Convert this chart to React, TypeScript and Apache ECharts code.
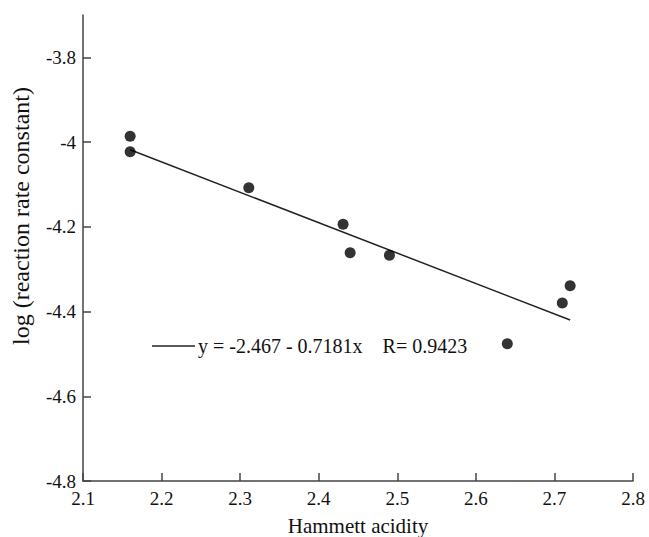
import React, { useEffect, useRef } from "react";
import * as echarts from "echarts";

const acidityX = [2.16, 2.16, 2.311, 2.431, 2.44, 2.49, 2.64, 2.71, 2.72];
const logRateY = [-3.986, -4.023, -4.108, -4.194, -4.261, -4.267, -4.476, -4.38, -4.339];
const fitX = [2.16, 2.72];
const fitY = [-4.018, -4.42];
const yTicks = [-4.8, -4.6, -4.4, -4.2, -4.0, -3.8];
const fitLabel = "y = -2.467 - 0.7181x    R= 0.9423";
const xTitle = "Hammett acidity";
const yTitle = "log (reaction rate constant)";

const FONT = "Liberation Serif";

export default function App() {
  const ref = useRef<HTMLDivElement>(null);
  useEffect(() => {
    document.body.style.margin = "0";
    const chart = echarts.init(ref.current!, null, { renderer: "svg" });
    const axisColor = "#444";
    chart.setOption({
      animation: false,
      backgroundColor: "#fff",
      textStyle: { fontFamily: FONT },
      grid: { left: 83, right: 16, top: 15, bottom: 56, containLabel: false, outerBoundsMode: "none" },
      xAxis: {
        type: "value",
        min: 2.1,
        max: 2.8,
        interval: 0.1,
        name: xTitle,
        nameLocation: "middle",
        nameGap: 34,
        nameTextStyle: { fontFamily: FONT, fontSize: 21, color: "#111", lineHeight: 21 },
        axisLine: { show: true, lineStyle: { color: axisColor, width: 1.5 } },
        axisTick: { show: true, inside: true, length: 8, lineStyle: { color: axisColor, width: 1.5 } },
        axisLabel: {
          fontFamily: FONT,
          fontSize: 19,
          color: "#111",
          margin: 8,
          formatter: (v: number) => v.toFixed(1),
        },
        splitLine: { show: false },
      },
      yAxis: {
        type: "value",
        min: -4.8,
        max: -3.7,
        interval: 0.2,
        axisLine: { show: true, lineStyle: { color: axisColor, width: 1.5 } },
        axisTick: { show: true, inside: true, length: 8, lineStyle: { color: axisColor, width: 1.5 }, customValues: yTicks },
        axisLabel: {
          fontFamily: FONT,
          fontSize: 19,
          color: "#111",
          margin: 7,
          showMaxLabel: false,
          formatter: (v: number) => String(Math.round(v * 10) / 10),
        },
        splitLine: { show: false },
      },
      series: [
        {
          type: "line",
          data: fitX.map((x, i) => [x, fitY[i]]),
          symbol: "none",
          lineStyle: { color: "#222", width: 1.5 },
          z: 2,
        },
        {
          type: "scatter",
          data: acidityX.map((x, i) => [x, logRateY[i]]),
          symbol: "circle",
          symbolSize: 11,
          itemStyle: { color: "#000" },
          z: 3,
        },
      ],
      graphic: [
        {
          type: "text",
          x: 21,
          y: 216,
          rotation: Math.PI / 2,
          style: {
            text: yTitle,
            fontFamily: FONT,
            fontSize: 24,
            fill: "#111",
            align: "center",
            verticalAlign: "middle",
          },
        },
        {
          type: "line",
          shape: { x1: 152, y1: 346, x2: 195, y2: 346 },
          style: { stroke: "#222", lineWidth: 1.5 },
        },
        {
          type: "text",
          x: 198,
          y: 346,
          style: {
            text: fitLabel,
            fontFamily: FONT,
            fontSize: 20,
            fill: "#111",
            verticalAlign: "middle",
            align: "left",
          },
        },
      ],
    });
    return () => chart.dispose();
  }, []);
  return <div ref={ref} style={{ width: 649, height: 537 }} />;
}
